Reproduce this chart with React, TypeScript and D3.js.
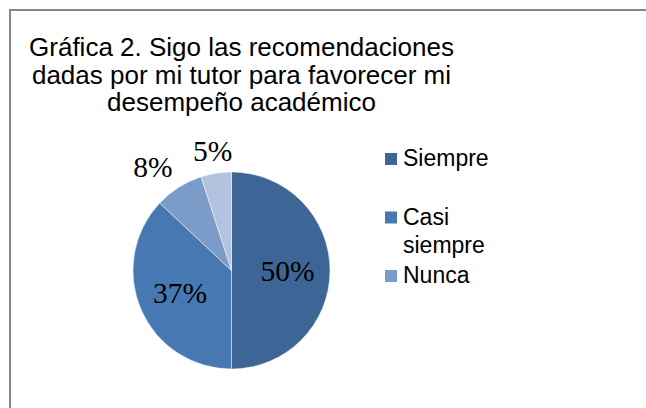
import React from "react";
import * as d3 from "d3";

const titleLines = [
  "Gráfica 2. Sigo las recomendaciones",
  "dadas por mi tutor para favorecer mi",
  "desempeño académico",
];
const categories = ["Siempre", "Casi siempre", "Nunca", "Casi nunca"];
const values = [50, 37, 8, 5];
const legendLines = [["Siempre"], ["Casi", "siempre"], ["Nunca"]];
const colors = ["#3D6596", "#4878B2", "#7B9BC9", "#B3C3DF"];

const W = 646;
const H = 408;
const cx = 231.5;
const cy = 270.5;
const R = 98.5;

export default function App() {
  const pie = d3
    .pie<number>()
    .value((d) => d)
    .sort(null)
    .startAngle(0)
    .endAngle(2 * Math.PI);
  const arcs = pie(values);
  const arc = d3.arc<d3.PieArcDatum<number>>().innerRadius(0).outerRadius(R);
  const fmt = d3.format(".0%");
  const total = d3.sum(values);

  const labelPos = (a: d3.PieArcDatum<number>) => {
    const mid = (a.startAngle + a.endAngle) / 2;
    const ux = Math.sin(mid);
    const uy = -Math.cos(mid);
    const share = a.value / total;
    if (share > 0.2) {
      const d = R * 0.57;
      return [ux * d, uy * d];
    }
    const hw = 19.5;
    const hh = 10;
    const d = R + 12;
    const ox = Math.sign(ux) * hw * Math.min(1, 3.5 * ux * ux);
    const oy = Math.sign(uy) * hh * Math.min(1, 3.5 * uy * uy);
    return [ux * d + ox, uy * d + oy];
  };

  const legendY = d3
    .scalePoint<number>()
    .domain(legendLines.map((_, i) => i))
    .range([159, 276]);

  return (
    <svg
      width={W}
      height={H}
      style={{ position: "absolute", left: 0, top: 0, background: "#fff" }}
    >
      <rect x={0} y={0} width={W} height={H} fill="#fff" />
      <path d={`M10,${H} V10 H${W}`} fill="none" stroke="#868686" strokeWidth={2} />
      <g
        fontFamily="'Liberation Sans', Arial, sans-serif"
        fontSize={26}
        fill="#000"
        textAnchor="middle"
      >
        {titleLines.map((t, i) => (
          <text key={i} x={241.5} y={56 + i * 27.5}>
            {t}
          </text>
        ))}
      </g>
      <g transform={`translate(${cx},${cy})`}>
        {arcs.map((a, i) => (
          <path
            key={categories[i]}
            d={arc(a) || ""}
            fill={colors[i]}
            stroke="#ffffff"
            strokeOpacity={0.45}
            strokeWidth={1}
          />
        ))}
        {arcs.map((a, i) => {
          const [x, y] = labelPos(a);
          return (
            <text
              key={"l" + i}
              x={x}
              y={y}
              dy="0.34em"
              textAnchor="middle"
              fontFamily="'Liberation Serif', 'Times New Roman', serif"
              fontSize={29.5}
              fill="#000"
            >
              {fmt(a.value / total)}
            </text>
          );
        })}
      </g>
      <g fontFamily="'Liberation Sans', Arial, sans-serif" fontSize={23} fill="#000">
        {legendLines.map((lines, i) => {
          const y = legendY(i) as number;
          return (
            <g key={i}>
              <rect x={385} y={y - 6} width={12} height={12} fill={colors[i]} />
              {lines.map((ln, j) => (
                <text key={j} x={403} y={y + 7 + j * 28}>
                  {ln}
                </text>
              ))}
            </g>
          );
        })}
      </g>
    </svg>
  );
}
